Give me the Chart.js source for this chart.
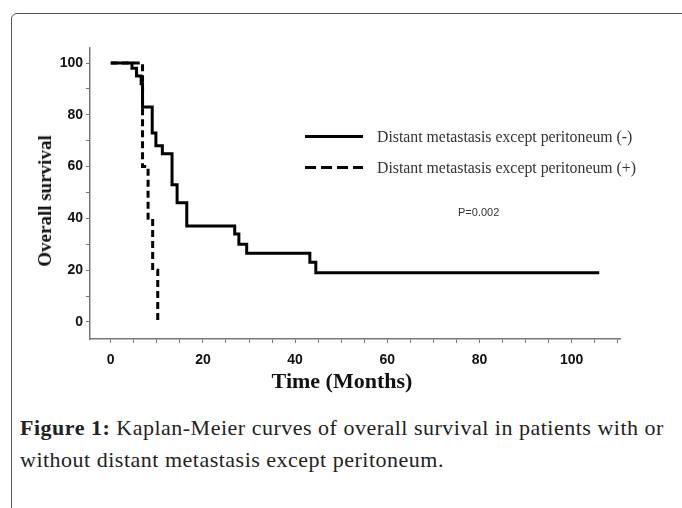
<!DOCTYPE html>
<html>
<head>
<meta charset="utf-8">
<script src="https://cdn.jsdelivr.net/npm/chart.js@4"></script>
<style>
  body { margin: 0; background: #fff; width: 682px; height: 508px; overflow: hidden; position: relative; }
  #frame { position: absolute; left: 11px; top: 13px; width: 720px; height: 540px;
           border: 1.5px solid #555; border-radius: 6px; }
  #km { position: absolute; left: 0; top: 0; }
  .axis-title { position: absolute; white-space: nowrap; color: #111;
                font-family: "Liberation Serif", "Times New Roman", serif; font-weight: bold; }
  #xtitle { left: 342px; top: 381px; font-size: 22px; transform: translate(-50%, -50%); }
  #ytitle { left: 45px; top: 201px; font-size: 19px; transform: translate(-50%, -50%) rotate(-90deg); }
  .legend-row { position: absolute; left: 305px; height: 20px; }
  .sample { position: absolute; left: 0; top: 8px; width: 58px; height: 3px; }
  .sample.solid { background: #000; }
  .sample.dashed { background: linear-gradient(to right, #000 0 11px, transparent 11px 16px) repeat-x;
                   background-size: 16px 3px; }
  .legend-text { position: absolute; left: 72px; top: 0; white-space: nowrap;
                 font: 15.8px "Liberation Serif", serif; color: #333; line-height: 20px; }
  #pvalue { position: absolute; left: 458px; top: 206px; font: 11px "Liberation Sans", sans-serif; color: #333; }
  #caption { position: absolute; left: 20px; top: 412px; width: 660px; letter-spacing: 0.5px;
             font: 22px "Liberation Serif", serif; color: #222; line-height: 32px; }
  #caption b { font-weight: bold; }
</style>
</head>
<body>
<div id="frame"></div>
<canvas id="km" width="682" height="400"></canvas>
<div class="axis-title" id="xtitle">Time (Months)</div>
<div class="axis-title" id="ytitle">Overall survival</div>

<div class="legend-row" style="top:127px">
  <div class="sample solid"></div>
  <div class="legend-text">Distant metastasis except peritoneum (-)</div>
</div>
<div class="legend-row" style="top:158px">
  <div class="sample dashed"></div>
  <div class="legend-text">Distant metastasis except peritoneum (+)</div>
</div>
<div id="pvalue">P=0.002</div>

<div id="caption"><b>Figure 1:</b> Kaplan-Meier curves of overall survival in patients with or without distant metastasis except peritoneum.</div>

<script>
// --------------- Data ---------------
// peritoneum (-) group: month of each step and survival (%) after it
const negMonths   = [0, 4.6, 5.6, 6.6, 6.9, 9.0, 9.8, 11.2, 13.3, 14.4, 16.5, 26.9, 27.8, 29.5, 43.2, 44.5, 106];
const negSurvival = [100, 98, 95, 92, 83, 73, 68, 65, 53, 46, 37, 34, 30, 26.5, 23, 19, 19];

// peritoneum (+) group
const posMonths   = [0, 6.9, 8.1, 9.1, 10.2];
const posSurvival = [100, 60, 40, 20, 0];

const xTicks = [0, 5, 10, 15, 20, 25, 30, 35, 40, 45, 50, 55, 60, 65, 70, 75, 80, 85, 90, 95, 100, 105, 110];
const xLabels = [0, 20, 40, 60, 80, 100];
const yTicks = [0, 10, 20, 30, 40, 50, 60, 70, 80, 90, 100];
const yLabels = [0, 20, 40, 60, 80, 100];

// --------------- Helpers ---------------
function toPoints(xs, ys) {
  return xs.map((x, i) => ({ x: x, y: ys[i] }));
}

const axisColor = '#777';
const tickFont = { family: '"Liberation Sans", Arial, sans-serif', size: 14, weight: 'bold' };

// --------------- Chart ---------------
const ctx = document.getElementById('km').getContext('2d');
new Chart(ctx, {
  type: 'line',
  data: {
    datasets: [
      {
        label: 'Distant metastasis except peritoneum (-)',
        data: toPoints(negMonths, negSurvival),
        borderColor: '#000',
        borderWidth: 3,
        stepped: 'before',
        pointRadius: 0,
        fill: false
      },
      {
        label: 'Distant metastasis except peritoneum (+)',
        data: toPoints(posMonths, posSurvival),
        borderColor: '#000',
        borderWidth: 3,
        borderDash: [7, 4],
        stepped: 'before',
        pointRadius: 0,
        fill: false
      }
    ]
  },
  options: {
    responsive: false,
    animation: false,
    devicePixelRatio: 1,
    layout: { padding: { left: 30, right: 62, top: 48, bottom: 6 } },
    plugins: { legend: { display: false }, tooltip: { enabled: false } },
    scales: {
      x: {
        type: 'linear',
        min: -4.5,
        max: 110.5,
        afterBuildTicks: s => { s.ticks = xTicks.map(v => ({ value: v })); },
        afterFit: s => { s.height = 55; },
        border: { display: true, color: axisColor, width: 1.5 },
        grid: { drawOnChartArea: false, drawTicks: true, tickLength: 4, color: axisColor },
        ticks: {
          autoSkip: false, maxRotation: 0, padding: 9, color: '#111', font: tickFont,
          callback: v => xLabels.includes(v) ? String(v) : ''
        }
      },
      y: {
        min: -6.6,
        max: 105.8,
        afterBuildTicks: s => { s.ticks = yTicks.map(v => ({ value: v })); },
        afterFit: s => { s.width = 60; },
        border: { display: true, color: axisColor, width: 1.5 },
        grid: { drawOnChartArea: false, drawTicks: true, tickLength: 4, color: axisColor },
        ticks: {
          autoSkip: false, padding: 3, color: '#111', font: tickFont,
          callback: v => yLabels.includes(v) ? String(v) : ''
        }
      }
    }
  }
});
</script>
</body>
</html>
